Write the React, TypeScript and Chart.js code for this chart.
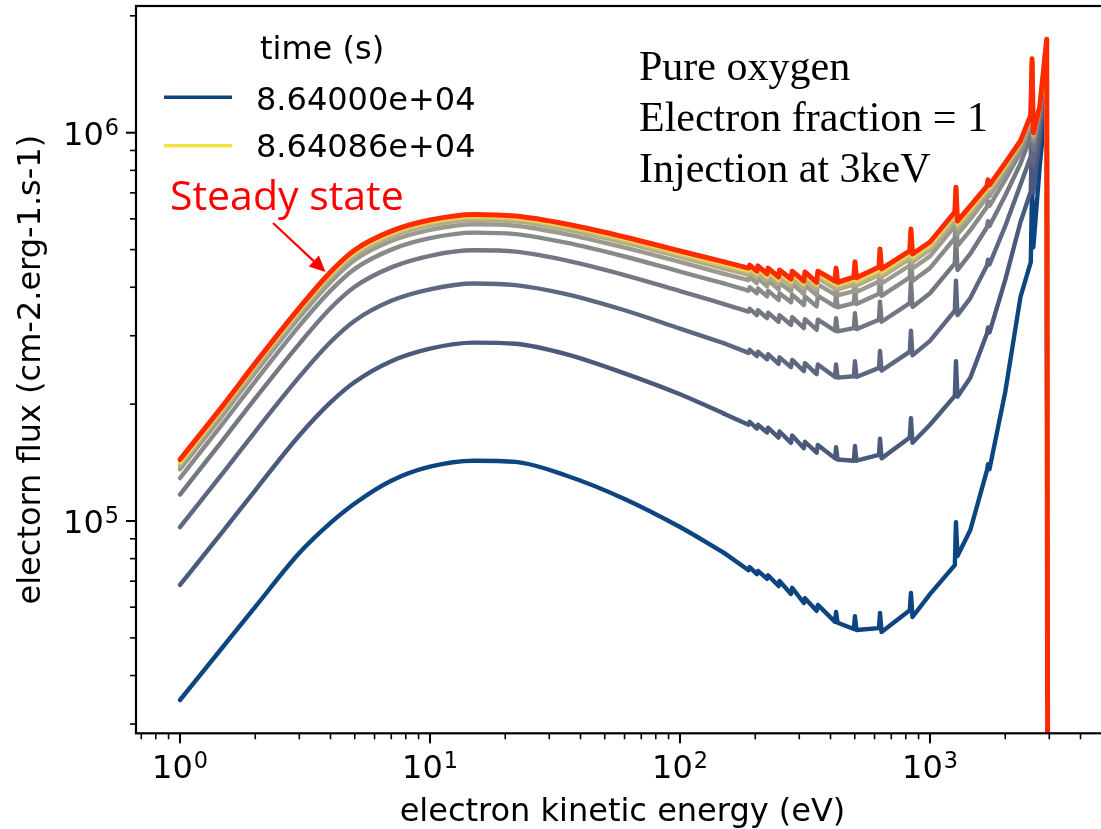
import React, { useEffect, useRef } from 'react';
import { Chart, registerables } from 'chart.js';

Chart.register(...registerables);

// electron kinetic energy grid (eV)
const energy = [1, 1.5, 2, 3, 4, 5, 7, 10, 15, 22, 35, 60, 100, 150,
  188, 190, 203, 205, 223, 225, 248, 250, 278, 281, 313, 316, 352, 356,
  417, 421, 427, 496, 501, 508, 625, 631, 640, 830, 839, 851, 1000,
  1257, 1270, 1288, 1450, 1690, 1706, 1730, 2000, 2300, 2530, 2560, 2590, 2750, 2930, 2960];
// index of the last point of the smooth low-energy part (150 eV)
const SMOOTH_END = 13;

// electron flux for successive times (first = 8.64000e+04 s, last = 8.64086e+04 s)
const fluxT0 = [3.46e4, 4.78e4, 6.01e4, 8.27e4, 9.89e4, 1.11e5, 1.27e5, 1.38e5, 1.43e5, 1.42e5, 1.31e5, 1.14e5, 9.65e4, 8.28e4,
  7.47e4, 7.61e4, 7.30e4, 7.44e4, 7.10e4, 7.25e4, 6.80e4, 7.01e4, 6.49e4, 6.73e4, 6.15e4, 6.33e4, 5.87e4, 6.08e4,
  5.50e4, 5.83e4, 5.47e4, 5.27e4, 5.69e4, 5.24e4, 5.30e4, 5.80e4, 5.18e4, 5.89e4, 6.53e4, 5.66e4, 6.48e4,
  7.70e4, 9.93e4, 8.13e4, 9.48e4, 1.35e5, 1.40e5, 1.36e5, 2.15e5, 3.77e5, 4.64e5, 7.34e5, 5.07e5, 8.25e5, 1.25e6, 1e4];
const fluxT1 = [6.85e4, 9.49e4, 1.20e5, 1.66e5, 2.02e5, 2.28e5, 2.58e5, 2.78e5, 2.88e5, 2.86e5, 2.69e5, 2.40e5, 2.12e5, 1.89e5,
  1.77e5, 1.80e5, 1.73e5, 1.77e5, 1.69e5, 1.74e5, 1.64e5, 1.70e5, 1.59e5, 1.66e5, 1.54e5, 1.60e5, 1.50e5, 1.57e5,
  1.45e5, 1.55e5, 1.44e5, 1.43e5, 1.56e5, 1.43e5, 1.48e5, 1.63e5, 1.45e5, 1.64e5, 1.84e5, 1.59e5, 1.77e5,
  2.10e5, 2.58e5, 2.09e5, 2.34e5, 3.04e5, 3.15e5, 3.06e5, 4.18e5, 5.88e5, 7.06e5, 1.05e6, 7.02e5, 9.77e5, 1.47e6, 1e4];
const fluxT2 = [9.64e4, 1.34e5, 1.70e5, 2.35e5, 2.89e5, 3.28e5, 3.69e5, 3.95e5, 4.09e5, 4.05e5, 3.84e5, 3.49e5, 3.13e5, 2.87e5,
  2.71e5, 2.76e5, 2.66e5, 2.73e5, 2.61e5, 2.69e5, 2.54e5, 2.64e5, 2.49e5, 2.60e5, 2.43e5, 2.55e5, 2.39e5, 2.53e5,
  2.35e5, 2.53e5, 2.34e5, 2.36e5, 2.58e5, 2.35e5, 2.48e5, 2.74e5, 2.44e5, 2.73e5, 3.09e5, 2.67e5, 2.91e5,
  3.48e5, 4.16e5, 3.39e5, 3.75e5, 4.55e5, 4.71e5, 4.58e5, 5.75e5, 7.34e5, 8.70e5, 1.26e6, 8.26e5, 1.06e6, 1.59e6, 1e4];
const fluxT3 = [1.17e5, 1.63e5, 2.07e5, 2.86e5, 3.53e5, 4.01e5, 4.50e5, 4.82e5, 4.98e5, 4.94e5, 4.69e5, 4.30e5, 3.91e5, 3.62e5,
  3.46e5, 3.52e5, 3.39e5, 3.49e5, 3.33e5, 3.44e5, 3.26e5, 3.39e5, 3.20e5, 3.35e5, 3.14e5, 3.31e5, 3.11e5, 3.30e5,
  3.09e5, 3.33e5, 3.08e5, 3.14e5, 3.43e5, 3.12e5, 3.30e5, 3.67e5, 3.26e5, 3.64e5, 4.13e5, 3.56e5, 3.86e5,
  4.61e5, 5.43e5, 4.43e5, 4.88e5, 5.71e5, 5.92e5, 5.75e5, 6.89e5, 8.32e5, 9.78e5, 1.39e6, 9.05e5, 1.11e6, 1.66e6, 1e4];
const fluxT4 = [1.29e5, 1.80e5, 2.29e5, 3.18e5, 3.92e5, 4.46e5, 5.00e5, 5.35e5, 5.53e5, 5.48e5, 5.21e5, 4.80e5, 4.39e5, 4.09e5,
  3.92e5, 4.00e5, 3.86e5, 3.97e5, 3.79e5, 3.92e5, 3.71e5, 3.86e5, 3.66e5, 3.83e5, 3.60e5, 3.79e5, 3.57e5, 3.80e5,
  3.57e5, 3.85e5, 3.55e5, 3.64e5, 3.98e5, 3.62e5, 3.85e5, 4.28e5, 3.80e5, 4.24e5, 4.82e5, 4.15e5, 4.48e5,
  5.35e5, 6.26e5, 5.11e5, 5.61e5, 6.44e5, 6.67e5, 6.48e5, 7.57e5, 8.88e5, 1.04e6, 1.46e6, 9.50e5, 1.14e6, 1.70e6, 1e4];
const fluxT5 = [1.36e5, 1.89e5, 2.41e5, 3.34e5, 4.12e5, 4.70e5, 5.26e5, 5.62e5, 5.81e5, 5.76e5, 5.48e5, 5.06e5, 4.65e5, 4.33e5,
  4.17e5, 4.25e5, 4.10e5, 4.22e5, 4.02e5, 4.17e5, 3.95e5, 4.11e5, 3.90e5, 4.09e5, 3.84e5, 4.05e5, 3.82e5, 4.07e5,
  3.83e5, 4.13e5, 3.81e5, 3.91e5, 4.27e5, 3.89e5, 4.14e5, 4.60e5, 4.09e5, 4.55e5, 5.18e5, 4.47e5, 4.81e5,
  5.75e5, 6.69e5, 5.47e5, 5.99e5, 6.82e5, 7.06e5, 6.86e5, 7.92e5, 9.17e5, 1.07e6, 1.50e6, 9.71e5, 1.16e6, 1.72e6, 1e4];
const fluxT6 = [1.39e5, 1.94e5, 2.47e5, 3.43e5, 4.24e5, 4.83e5, 5.40e5, 5.77e5, 5.96e5, 5.91e5, 5.63e5, 5.21e5, 4.79e5, 4.47e5,
  4.31e5, 4.39e5, 4.23e5, 4.36e5, 4.16e5, 4.31e5, 4.08e5, 4.26e5, 4.03e5, 4.23e5, 3.98e5, 4.20e5, 3.95e5, 4.22e5,
  3.97e5, 4.29e5, 3.95e5, 4.06e5, 4.44e5, 4.04e5, 4.30e5, 4.79e5, 4.25e5, 4.73e5, 5.39e5, 4.65e5, 5.00e5,
  5.97e5, 6.94e5, 5.67e5, 6.20e5, 7.03e5, 7.28e5, 7.07e5, 8.11e5, 9.33e5, 1.09e6, 1.52e6, 9.83e5, 1.16e6, 1.73e6, 1e4];
const fluxT7 = [1.41e5, 1.97e5, 2.51e5, 3.47e5, 4.30e5, 4.90e5, 5.48e5, 5.86e5, 6.05e5, 6.00e5, 5.72e5, 5.29e5, 4.86e5, 4.55e5,
  4.39e5, 4.47e5, 4.31e5, 4.44e5, 4.24e5, 4.39e5, 4.16e5, 4.33e5, 4.11e5, 4.31e5, 4.06e5, 4.28e5, 4.03e5, 4.30e5,
  4.05e5, 4.37e5, 4.03e5, 4.15e5, 4.53e5, 4.12e5, 4.40e5, 4.89e5, 4.34e5, 4.83e5, 5.51e5, 4.75e5, 5.10e5,
  6.09e5, 7.08e5, 5.79e5, 6.32e5, 7.14e5, 7.40e5, 7.19e5, 8.22e5, 9.42e5, 1.10e6, 1.53e6, 9.90e5, 1.17e6, 1.74e6, 1e4];
const fluxT8 = [1.42e5, 1.98e5, 2.53e5, 3.51e5, 4.34e5, 4.94e5, 5.53e5, 5.91e5, 6.10e5, 6.05e5, 5.77e5, 5.34e5, 4.91e5, 4.60e5,
  4.43e5, 4.52e5, 4.36e5, 4.49e5, 4.28e5, 4.43e5, 4.20e5, 4.38e5, 4.15e5, 4.35e5, 4.10e5, 4.33e5, 4.08e5, 4.35e5,
  4.10e5, 4.43e5, 4.08e5, 4.20e5, 4.59e5, 4.17e5, 4.45e5, 4.95e5, 4.40e5, 4.90e5, 5.58e5, 4.81e5, 5.17e5,
  6.17e5, 7.16e5, 5.86e5, 6.40e5, 7.21e5, 7.48e5, 7.26e5, 8.28e5, 9.47e5, 1.105e6, 1.54e6, 9.94e5, 1.17e6, 1.74e6, 1e4];
const fluxSteady = [1.44e5, 2.00e5, 2.55e5, 3.54e5, 4.38e5, 4.99e5, 5.58e5, 5.96e5, 6.16e5, 6.10e5, 5.82e5, 5.39e5, 4.96e5, 4.65e5,
  4.48e5, 4.56e5, 4.40e5, 4.54e5, 4.33e5, 4.48e5, 4.25e5, 4.43e5, 4.20e5, 4.40e5, 4.15e5, 4.38e5, 4.12e5, 4.40e5,
  4.15e5, 4.48e5, 4.12e5, 4.25e5, 4.65e5, 4.23e5, 4.51e5, 5.02e5, 4.46e5, 4.96e5, 5.65e5, 4.87e5, 5.23e5,
  6.25e5, 7.24e5, 5.92e5, 6.48e5, 7.29e5, 7.56e5, 7.33e5, 8.36e5, 9.52e5, 1.11e6, 1.55e6, 9.98e5, 1.17e6, 1.74e6, 1e4];

const timeSeries = [fluxT0, fluxT1, fluxT2, fluxT3, fluxT4, fluxT5, fluxT6, fluxT7, fluxT8];
const timeColors = ['#0d4580', '#4a5a7d', '#5e6780', '#737782', '#888a8a', '#9c9a8e', '#b2ab88', '#cdbf78', '#f0dc4a'];
const steadyColor = '#ff2a00';

const legendTitle = 'time (s)';
const legendLabels = ['8.64000e+04', '8.64086e+04'];
const legendColors = ['#0d4580', '#f5e145'];

const annotationLines = ['Pure oxygen', 'Electron fraction = 1', 'Injection at 3keV'];
const steadyLabel = 'Steady state';
const xTitle = 'electron kinetic energy (eV)';
const yTitle = 'electorn flux (cm-2.erg-1.s-1)';

const xMajorTicks = [1, 10, 100, 1000];
const xMajorExp = ['0', '1', '2', '3'];
const xMinorTicks = [0.7, 0.8, 0.9, 2, 3, 4, 5, 6, 7, 8, 9, 20, 30, 40, 50, 60, 70, 80, 90,
  200, 300, 400, 500, 600, 700, 800, 900, 2000, 3000, 4000, 5000];
const yMajorTicks = [1e5, 1e6];
const yMajorExp = ['5', '6'];
const yMinorTicks = [3e4, 4e4, 5e4, 6e4, 7e4, 8e4, 9e4, 2e5, 3e5, 4e5, 5e5, 6e5, 7e5, 8e5, 9e5, 2e6];

const X_MIN = 0.6668;
const X_MAX = 5200;
const Y_MIN = 2.84e4;
const Y_MAX = 2.12e6;

const CANVAS_W = 1120;
const CANVAS_H = 829;
const AREA = { left: 136, top: 6, right: 1109, bottom: 733.3 };

const SANS = '"DejaVu Sans", sans-serif';

function drawPow(ctx: CanvasRenderingContext2D, exp: string, x: number, y: number, align: 'center' | 'right') {
  ctx.font = `32px ${SANS}`;
  const wb = ctx.measureText('10').width;
  ctx.font = `22.4px ${SANS}`;
  const we = ctx.measureText(exp).width;
  const total = wb + we + 1;
  const x0 = align === 'center' ? x - total / 2 : x - total;
  ctx.textAlign = 'left';
  ctx.textBaseline = 'alphabetic';
  ctx.font = `32px ${SANS}`;
  ctx.fillText('10', x0, y);
  ctx.font = `22.4px ${SANS}`;
  ctx.fillText(exp, x0 + wb + 1, y - 10);
}

const overlayPlugin = {
  id: 'overlay',
  afterDraw(chart: any) {
    const ctx: CanvasRenderingContext2D = chart.ctx;
    const { left, top, right, bottom } = chart.chartArea;
    const xs = chart.scales.x;
    const ys = chart.scales.y;
    ctx.save();
    ctx.fillStyle = '#000';
    ctx.strokeStyle = '#000';

    ctx.lineWidth = 2.2;
    ctx.strokeRect(left, top, right - left, bottom - top);

    ctx.lineCap = 'butt';
    ctx.lineWidth = 2;
    for (const v of xMajorTicks) {
      const px = xs.getPixelForValue(v);
      ctx.beginPath(); ctx.moveTo(px, bottom); ctx.lineTo(px, bottom + 10); ctx.stroke();
    }
    for (const v of yMajorTicks) {
      const py = ys.getPixelForValue(v);
      ctx.beginPath(); ctx.moveTo(left, py); ctx.lineTo(left - 10, py); ctx.stroke();
    }
    ctx.lineWidth = 1.6;
    for (const v of xMinorTicks) {
      const px = xs.getPixelForValue(v);
      if (px < left || px > right) continue;
      ctx.beginPath(); ctx.moveTo(px, bottom); ctx.lineTo(px, bottom + 6); ctx.stroke();
    }
    for (const v of yMinorTicks) {
      const py = ys.getPixelForValue(v);
      if (py < top || py > bottom) continue;
      ctx.beginPath(); ctx.moveTo(left, py); ctx.lineTo(left - 6, py); ctx.stroke();
    }

    xMajorTicks.forEach((v, i) => drawPow(ctx, xMajorExp[i], xs.getPixelForValue(v), 778, 'center'));
    yMajorTicks.forEach((v, i) => drawPow(ctx, yMajorExp[i], 119, ys.getPixelForValue(v) + 12.3, 'right'));

    ctx.font = `32px ${SANS}`;
    ctx.textAlign = 'center';
    ctx.textBaseline = 'alphabetic';
    ctx.fillText(xTitle, (left + right) / 2, 820.5);
    ctx.save();
    ctx.translate(40, (top + bottom) / 2);
    ctx.rotate(-Math.PI / 2);
    ctx.fillText(yTitle, 0, 0);
    ctx.restore();

    ctx.textAlign = 'left';
    ctx.font = `32px ${SANS}`;
    ctx.fillText(legendTitle, 260, 59);
    const legendY = [97.3, 145.7];
    const legendBase = [110, 157.3];
    legendLabels.forEach((lab, i) => {
      ctx.strokeStyle = legendColors[i];
      ctx.lineWidth = 3.6;
      ctx.beginPath(); ctx.moveTo(164, legendY[i]); ctx.lineTo(232, legendY[i]); ctx.stroke();
      ctx.fillStyle = '#000';
      ctx.fillText(lab, 256, legendBase[i]);
    });

    ctx.font = '42px "Liberation Serif", serif';
    ctx.fillStyle = '#000';
    const annBase = [80, 130.5, 181.5];
    annotationLines.forEach((t, i) => ctx.fillText(t, 639, annBase[i]));

    ctx.fillStyle = '#ff0000';
    ctx.font = '41px "Open Sans", sans-serif';
    ctx.fillText(steadyLabel, 170, 210);
    const ax0 = 273, ay0 = 223, ax1 = 325.5, ay1 = 272;
    const dx = ax1 - ax0, dy = ay1 - ay0;
    const len = Math.hypot(dx, dy);
    const ux = dx / len, uy = dy / len;
    const hl = 16, hw = 7.5;
    ctx.strokeStyle = '#ff0000';
    ctx.lineWidth = 2.2;
    ctx.beginPath(); ctx.moveTo(ax0, ay0); ctx.lineTo(ax1 - ux * hl, ay1 - uy * hl); ctx.stroke();
    ctx.beginPath();
    ctx.moveTo(ax1, ay1);
    ctx.lineTo(ax1 - ux * hl - uy * hw, ay1 - uy * hl + ux * hw);
    ctx.lineTo(ax1 - ux * hl + uy * hw, ay1 - uy * hl - ux * hw);
    ctx.closePath();
    ctx.fill();

    ctx.restore();
  },
};

function toPoints(values: number[], from: number, to: number) {
  const pts: { x: number; y: number }[] = [];
  for (let i = from; i <= to; i++) pts.push({ x: energy[i], y: values[i] });
  return pts;
}

function curveDatasets(label: string, values: number[], color: string, width: number, order: number) {
  const last = energy.length - 1;
  return [
    {
      label: `${label} (low energy)`,
      data: toPoints(values, 0, SMOOTH_END),
      borderColor: color,
      borderWidth: width,
      cubicInterpolationMode: 'monotone',
      order,
    },
    {
      label,
      data: toPoints(values, SMOOTH_END, last),
      borderColor: color,
      borderWidth: width,
      tension: 0,
      order,
    },
  ];
}

export default function App() {
  const ref = useRef<HTMLCanvasElement>(null);
  useEffect(() => {
    const canvas = ref.current;
    if (!canvas) return;
    const datasets: any[] = [
      ...curveDatasets('steady state', fluxSteady, steadyColor, 5, 0),
      ...timeSeries.flatMap((s, k) => curveDatasets(`t${k}`, s, timeColors[k], 4.4, 10 - k)),
    ];
    const chart = new Chart(canvas, {
      type: 'line',
      data: { datasets },
      options: {
        animation: false,
        responsive: false,
        devicePixelRatio: 1,
        layout: {
          padding: {
            left: AREA.left,
            top: AREA.top,
            right: CANVAS_W - AREA.right,
            bottom: CANVAS_H - AREA.bottom,
          },
        },
        scales: {
          x: { type: 'logarithmic', display: false, min: X_MIN, max: X_MAX },
          y: { type: 'logarithmic', display: false, min: Y_MIN, max: Y_MAX },
        },
        elements: {
          point: { radius: 0 },
          line: { borderJoinStyle: 'round', borderCapStyle: 'round' },
        },
        plugins: { legend: { display: false }, tooltip: { enabled: false } },
      } as any,
      plugins: [overlayPlugin],
    });
    return () => chart.destroy();
  }, []);
  return (
    <div style={{ position: 'fixed', left: 0, top: 0, width: 1101, height: 829, overflow: 'hidden', background: '#fff' }}>
      <canvas ref={ref} width={CANVAS_W} height={CANVAS_H} style={{ width: CANVAS_W, height: CANVAS_H, display: 'block' }} />
    </div>
  );
}
